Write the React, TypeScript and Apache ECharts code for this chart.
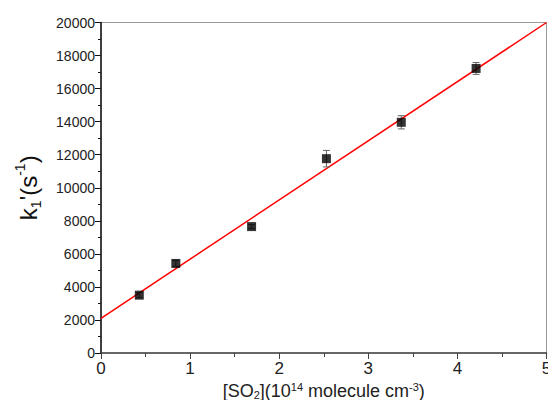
import React, { useEffect, useRef } from "react";
import * as echarts from "echarts";

const xValues = [0.43, 0.84, 1.69, 2.53, 3.37, 4.21];
const yValues = [3500, 5420, 7650, 11760, 13960, 17220];
const yErrors = [150, 180, 120, 500, 400, 360];
const fitX = [0, 5];
const fitY = [2100, 20000];
const FONT = "Liberation Sans, Arial, sans-serif";

export default function App() {
  const ref = useRef<HTMLDivElement>(null);
  useEffect(() => {
    if (!ref.current) return;
    const chart = echarts.init(ref.current, undefined, { renderer: "svg" });
    const scatterData = xValues.map((x, i) => [x, yValues[i]]);
    const errData = xValues.map((x, i) => [x, yValues[i] - yErrors[i], yValues[i] + yErrors[i]]);
    const fitData = fitX.map((x, i) => [x, fitY[i]]);
    chart.setOption({
      animation: false,
      backgroundColor: "#ffffff",
      grid: {
        left: 101,
        right: 1.5,
        top: 22.5,
        bottom: 47,
        show: true,
        borderColor: "#999",
        borderWidth: 1,
        containLabel: false,
        outerBoundsMode: "none",
      },
      xAxis: {
        type: "value",
        min: 0,
        max: 5,
        interval: 1,
        name: "{a|[SO}{sub|2}{a|](10}{sup|14}{a| molecule cm}{sup|-3}{a|)}",
        nameLocation: "middle",
        nameGap: 25,
        nameTextStyle: {
          fontFamily: FONT,
          color: "#222",
          rich: {
            a: { fontSize: 18, fontFamily: FONT, color: "#222", lineHeight: 19 },
            sub: { fontSize: 11, fontFamily: FONT, color: "#222", verticalAlign: "bottom", lineHeight: 13 },
            sup: { fontSize: 11, fontFamily: FONT, color: "#222", verticalAlign: "top", lineHeight: 13 },
          },
        },
        axisLine: { show: true, lineStyle: { color: "#444", width: 1.5 } },
        axisTick: { show: true, inside: false, length: 6, lineStyle: { color: "#444" } },
        minorTick: { show: true, splitNumber: 2, length: 4, lineStyle: { color: "#444" } },
        splitLine: { show: false },
        axisLabel: { fontFamily: FONT, fontSize: 17, color: "#222", margin: 7 },
      },
      yAxis: {
        type: "value",
        min: 0,
        max: 20000,
        interval: 2000,
        name: "{k|k}{sub|1}{k|'(s}{sup|-1}{k|)}",
        nameLocation: "middle",
        nameRotate: 90,
        nameGap: 58,
        nameTextStyle: {
          fontFamily: FONT,
          color: "#111",
          rich: {
            k: { fontSize: 24, fontFamily: FONT, color: "#111", lineHeight: 30 },
            sub: { fontSize: 14, fontFamily: FONT, color: "#111", verticalAlign: "bottom", lineHeight: 20 },
            sup: { fontSize: 14, fontFamily: FONT, color: "#111", verticalAlign: "top", lineHeight: 20 },
          },
        },
        axisLine: { show: true, lineStyle: { color: "#111", width: 1.5 } },
        axisTick: { show: true, inside: false, length: 6, lineStyle: { color: "#111" } },
        minorTick: { show: true, splitNumber: 2, length: 3, lineStyle: { color: "#111" } },
        splitLine: { show: false },
        axisLabel: {
          fontFamily: FONT,
          fontSize: 14,
          color: "#222",
          margin: 6,
          formatter: (v: number) => String(v),
        },
      },
      series: [
        {
          type: "line",
          data: fitData,
          showSymbol: false,
          symbol: "none",
          lineStyle: { color: "#ff0000", width: 1.5 },
          z: 3,
        },
        {
          type: "custom",
          data: errData,
          z: 4,
          renderItem: (params: any, api: any) => {
            const x = api.value(0);
            const lo = api.coord([x, api.value(1)]);
            const hi = api.coord([x, api.value(2)]);
            const w = 3.5;
            const style = { stroke: "#666", lineWidth: 1 };
            return {
              type: "group",
              children: [
                { type: "line", shape: { x1: lo[0], y1: lo[1], x2: hi[0], y2: hi[1] }, style },
                { type: "line", shape: { x1: lo[0] - w, y1: lo[1], x2: lo[0] + w, y2: lo[1] }, style },
                { type: "line", shape: { x1: hi[0] - w, y1: hi[1], x2: hi[0] + w, y2: hi[1] }, style },
              ],
            };
          },
        },
        {
          type: "scatter",
          data: scatterData,
          symbol: "rect",
          symbolSize: 9,
          itemStyle: { color: "#000" },
          z: 5,
        },
      ],
    });
    return () => chart.dispose();
  }, []);
  return (
    <div
      ref={ref}
      style={{ position: "absolute", left: 0, top: 0, width: 548, height: 400 }}
    />
  );
}
